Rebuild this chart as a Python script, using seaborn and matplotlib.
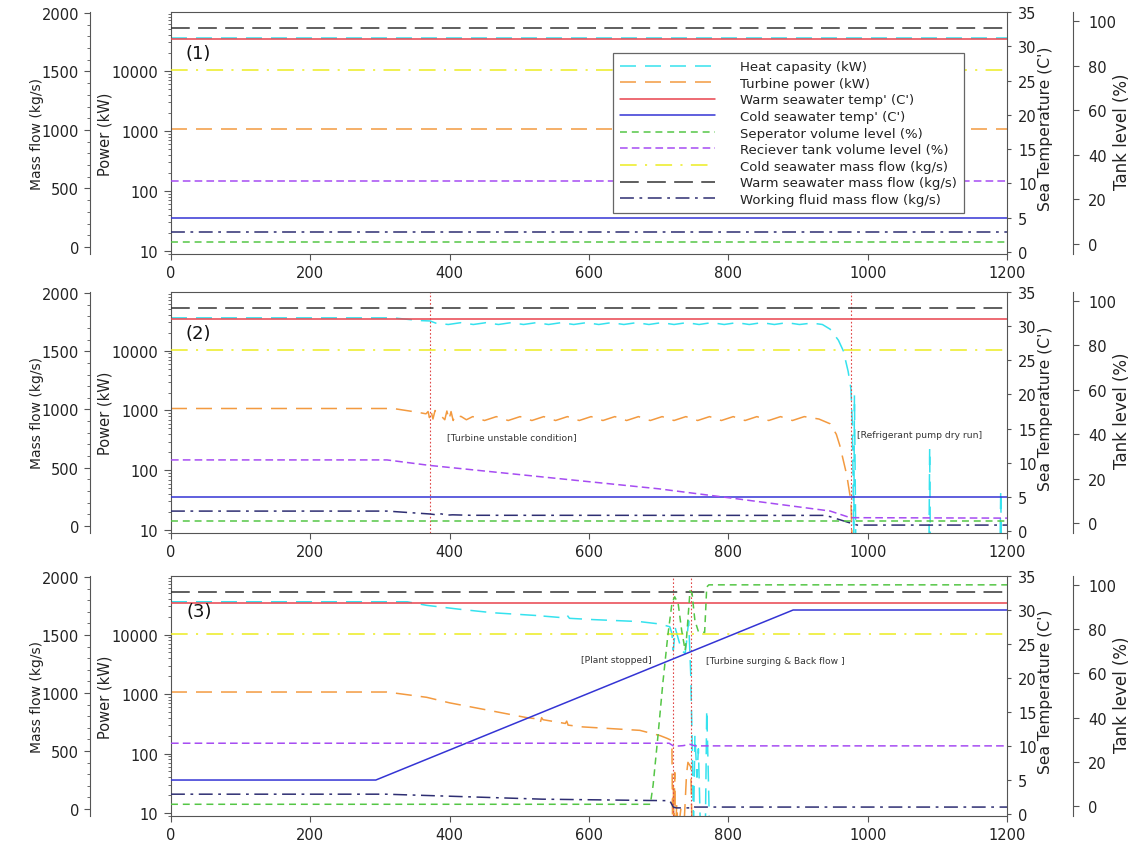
import matplotlib
matplotlib.use("Agg")
import matplotlib.pyplot as plt
from matplotlib.ticker import FixedLocator, FuncFormatter, LogLocator, MultipleLocator, NullFormatter
import numpy as np
import seaborn as sns

# ---------------------------------------------------------------- data
TIME_TICKS = [0, 200, 400, 600, 800, 1000, 1200]
POWER_TICKS = [10, 100, 1000, 10000]
MASS_TICKS = [0, 500, 1000, 1500, 2000]
TEMP_TICKS = [0, 5, 10, 15, 20, 25, 30, 35]
TANK_TICKS = [0, 20, 40, 60, 80, 100]

LABELS = {
    "heat": "Heat capasity (kW)",
    "turbine": "Turbine power (kW)",
    "warm_t": "Warm seawater temp' (C')",
    "cold_t": "Cold seawater temp' (C')",
    "sep": "Seperator volume level (%)",
    "rec": "Reciever tank volume level (%)",
    "cold_m": "Cold seawater mass flow (kg/s)",
    "warm_m": "Warm seawater mass flow (kg/s)",
    "wf": "Working fluid mass flow (kg/s)",
}

# (time s, value) pairs
HEAT_1 = [(0, 35500), (1200, 35500)]
TURBINE_1 = [(0, 1080), (1200, 1080)]
WARM_T_1 = [(0, 31), (1200, 31)]
COLD_T_1 = [(0, 5), (1200, 5)]
SEP_1 = [(0, 0.8), (1200, 0.8)]
REC_1 = [(0, 28.4), (1200, 28.4)]
COLD_M_1 = [(0, 1510), (1200, 1510)]
WARM_M_1 = [(0, 1870), (1200, 1870)]
WF_1 = [(0, 128), (1200, 128)]

HEAT_2 = [(0, 35500), (319, 35500), (340, 33500), (357, 32000), (372, 31500), (380, 29000),
          (398, 27500), (416, 29500), (434, 27500), (452, 29500), (470, 27500), (488, 29500),
          (506, 27500), (524, 29500), (542, 27500), (560, 29500), (578, 27500), (596, 29500),
          (614, 27500), (632, 29500), (650, 27500), (668, 29500), (686, 27500), (704, 29500),
          (722, 27500), (740, 29500), (758, 27500), (776, 29500), (794, 27500), (812, 29500),
          (830, 27500), (848, 29500), (866, 27500), (884, 29500), (902, 27500), (920, 29000),
          (935, 27500), (946, 23000), (958, 15000), (965, 10000), (972, 4500), (976, 2300),
          (978, 600), (979, 83), (980, 5), (981, 1800), (983, 5), (1088, 5), (1089, 233),
          (1090, 5), (1190, 5), (1191, 46), (1192, 5), (1200, 5)]
TURBINE_2 = [(0, 1080), (319, 1080), (340, 990), (355, 930), (366, 880), (369, 960), (371, 760),
             (373, 1010), (376, 720), (379, 1000), (382, 900), (386, 850), (390, 760), (393, 700),
             (396, 980), (399, 700), (402, 960), (405, 680), (408, 820), (411, 760), (416, 800),
             (424, 700), (433, 790), (450, 680), (467, 790), (484, 680), (501, 790), (518, 680),
             (535, 790), (552, 680), (569, 790), (586, 680), (603, 790), (620, 680), (637, 790),
             (654, 680), (671, 790), (688, 680), (705, 790), (722, 680), (739, 790), (756, 680),
             (773, 790), (790, 680), (807, 790), (824, 680), (841, 790), (858, 680), (875, 790),
             (892, 680), (909, 790), (930, 720), (946, 600), (955, 400), (960, 260), (970, 83),
             (976, 30), (978, 5), (1200, 5)]
REC_2 = [(0, 28.4), (310, 28.4), (372, 25.9), (700, 15.4), (805, 11.2), (946, 5.4), (975, 2.4),
         (1200, 2.2)]
WF_2 = [(0, 128), (310, 128), (372, 103), (380, 97), (388, 104), (396, 93), (404, 96), (430, 92),
        (940, 91), (975, 26), (985, 8), (1200, 8)]

HEAT_3 = [(0, 35500), (339, 35500), (367, 30900), (415, 26500), (462, 23200), (526, 20800),
          (530, 22500), (534, 20400), (566, 19000), (569, 20800), (572, 18700), (606, 17800),
          (672, 16500), (702, 15000), (716, 13500), (719, 10400), (721, 5400), (724, 12600),
          (728, 8600), (733, 5400), (738, 4800), (740, 7500), (743, 17000), (746, 2200),
          (748, 170), (750, 5), (752, 200), (755, 40), (757, 120), (760, 5), (767, 5), (769, 540),
          (771, 60), (773, 5), (1200, 5)]
TURBINE_3 = [(0, 1080), (310, 1080), (367, 880), (400, 710), (462, 516), (511, 400), (528, 380),
             (530, 330), (532, 400), (534, 370), (566, 320), (568, 350), (570, 300), (591, 280),
             (673, 245), (702, 200), (712, 180), (719, 165), (720, 5), (721, 29), (722, 5),
             (723, 48), (724, 5), (726, 14), (728, 5), (732, 12), (736, 5), (740, 45), (742, 71),
             (746, 60), (748, 5), (1200, 5)]
COLD_T_3 = [(0, 5), (294, 5), (893, 30), (1200, 30)]
SEP_3 = [(0, 0.8), (688, 0.8), (692, 9.4), (699, 31.8), (706, 55.6), (713, 76.7), (719, 91.5),
         (723, 94.6), (728, 91.5), (733, 79.4), (738, 70.4), (740, 76), (745, 97.3), (748, 96),
         (752, 83.9), (757, 78.9), (766, 78.5), (769, 99), (772, 100), (1200, 100)]
REC_3 = [(0, 28.4), (715, 28.4), (722, 27.0), (735, 27.3), (745, 27.9), (752, 27.2), (1200, 27.2)]
WF_3 = [(0, 128), (308, 128), (413, 108), (533, 85), (683, 74), (716, 72), (721, 17), (725, 10),
        (745, 10), (748, 25), (752, 17), (1200, 17)]

PANELS = [
    dict(heat=HEAT_1, turbine=TURBINE_1, warm_t=WARM_T_1, cold_t=COLD_T_1, sep=SEP_1,
         rec=REC_1, cold_m=COLD_M_1, warm_m=WARM_M_1, wf=WF_1),
    dict(heat=HEAT_2, turbine=TURBINE_2, warm_t=WARM_T_1, cold_t=COLD_T_1, sep=SEP_1,
         rec=REC_2, cold_m=COLD_M_1, warm_m=WARM_M_1, wf=WF_2),
    dict(heat=HEAT_3, turbine=TURBINE_3, warm_t=WARM_T_1, cold_t=COLD_T_3, sep=SEP_3,
         rec=REC_3, cold_m=COLD_M_1, warm_m=WARM_M_1, wf=WF_3),
]
PANEL_TAGS = ["(1)", "(2)", "(3)"]
EVENTS = [[], [372, 976], [720, 746]]
NOTES = [[], ["[Turbine unstable condition]", "[Refrigerant pump dry run]"],
         ["[Plant stopped]", "[Turbine surging & Back flow ]"]]

# ---------------------------------------------------------------- styles / layout
AXIS_OF = dict(heat="power", turbine="power", warm_t="temp", cold_t="temp", sep="tank",
               rec="tank", cold_m="mass", warm_m="mass", wf="mass")
STYLES = {
    "heat": dict(color="#35e2ee", ls=(0, (11.5, 6.5)), lw=1.1),
    "turbine": dict(color="#f39a40", ls=(0, (11.5, 6.5)), lw=1.1),
    "warm_t": dict(color="#e8434d", ls="-", lw=1.1),
    "cold_t": dict(color="#3434d4", ls="-", lw=1.1),
    "sep": dict(color="#55c646", ls=(0, (5, 3.5)), lw=1.1),
    "rec": dict(color="#a64cf2", ls=(0, (5.5, 3)), lw=1.1),
    "cold_m": dict(color="#ecec20", ls=(0, (12, 6, 1.5, 6)), lw=1.1),
    "warm_m": dict(color="#333333", ls=(0, (13.5, 6)), lw=1.1),
    "wf": dict(color="#2e2e72", ls=(0, (10, 4, 2, 4)), lw=1.1),
}
NOTE_POS = [[], [(0.33, 0.40), (0.82, 0.41)], [(0.491, 0.654), (0.64, 0.646)]]
TAG_POS = [(0.017, 0.83), (0.017, 0.83), (0.019, 0.855)]

sns.set_theme(style="ticks")
plt.rcParams["font.family"] = ["DejaVu Sans"]
plt.rcParams["lines.scale_dashes"] = False

FIG_W, FIG_H = 1134, 845
fig = plt.figure(figsize=(FIG_W / 100, FIG_H / 100), dpi=100)
LEFT, WIDTH = 171 / FIG_W, 836 / FIG_W
RECTS = [(LEFT, 1 - 255 / FIG_H, WIDTH, 242 / FIG_H),
         (LEFT, 1 - 534 / FIG_H, WIDTH, 241 / FIG_H),
         (LEFT, 1 - 817 / FIG_H, WIDTH, 240 / FIG_H)]
SPINE_C = "#555555"
TXT_C = "#222222"

legend_handles = {}

for i, rect in enumerate(RECTS):
    ax = fig.add_axes(rect)
    axm = ax.twinx()
    axt = ax.twinx()
    axk = ax.twinx()
    axes = dict(power=ax, mass=axm, temp=axt, tank=axk)
    ax.set_yscale("log")

    for key in ["heat", "turbine", "cold_m", "warm_m", "wf", "warm_t", "cold_t", "rec", "sep"]:
        pts = PANELS[i][key]
        t = [p[0] for p in pts]
        v = [p[1] for p in pts]
        st = STYLES[key]
        a = axes[AXIS_OF[key]]
        sns.lineplot(x=t, y=v, ax=a, color=st["color"], linestyle=st["ls"], linewidth=st["lw"],
                     estimator=None, sort=False, legend=False)
        if i == 0:
            legend_handles[key] = a.lines[-1]

    for ev in EVENTS[i]:
        ax.axvline(ev, color="#e04848", linestyle=(0, (1.2, 1.5)), linewidth=0.8)

    # limits
    ax.set_xlim(0, 1200)
    ax.set_ylim(8.91, 96200)
    axm.set_ylim(-60, 2008)
    axt.set_ylim(-0.29, 35)
    axk.set_ylim(-4.5, 104)

    # spines
    for a in (axm, axt, axk):
        for s in a.spines.values():
            s.set_visible(False)
    for s in ax.spines.values():
        s.set_visible(True)
        s.set_color(SPINE_C)
        s.set_linewidth(0.8)
    axm.yaxis.set_ticks_position("left")
    axm.yaxis.set_label_position("left")
    axm.spines["left"].set_visible(True)
    axm.spines["left"].set_position(("axes", -81 / 836))
    axk.spines["right"].set_visible(True)
    axk.spines["right"].set_position(("axes", (1073 - 171) / 836))
    for a, side in ((axm, "left"), (axk, "right")):
        a.spines[side].set_color(SPINE_C)
        a.spines[side].set_linewidth(0.8)

    # ticks
    ax.xaxis.set_major_locator(FixedLocator(TIME_TICKS))
    ax.yaxis.set_major_locator(FixedLocator(POWER_TICKS))
    ax.yaxis.set_major_formatter(FuncFormatter(lambda v, p: f"{v:g}"))
    ax.yaxis.set_minor_locator(LogLocator(base=10, subs=np.arange(2, 10)))
    ax.yaxis.set_minor_formatter(NullFormatter())
    axm.yaxis.set_major_locator(FixedLocator(MASS_TICKS))
    axm.yaxis.set_minor_locator(MultipleLocator(100))
    axt.yaxis.set_major_locator(FixedLocator(TEMP_TICKS))
    axk.yaxis.set_major_locator(FixedLocator(TANK_TICKS))

    common = dict(direction="out", color=SPINE_C, labelcolor=TXT_C, labelsize=10.5, width=0.8)
    ax.tick_params(axis="x", which="major", length=4, pad=4, **common)
    ax.tick_params(axis="x", which="minor", bottom=False)
    ax.tick_params(axis="y", which="major", length=5, pad=4, left=True, right=False, **common)
    ax.tick_params(axis="y", which="minor", length=2.5, left=True, right=False,
                   direction="out", color=SPINE_C, width=0.6)
    axm.tick_params(axis="y", which="major", length=4, pad=4, **common)
    axm.tick_params(axis="y", which="minor", length=2.5, direction="out", color=SPINE_C, width=0.6)
    axt.tick_params(axis="y", which="major", length=3, pad=5, **common)
    axk.tick_params(axis="y", which="major", length=4, pad=7, **common)

    # axis labels
    ax.set_ylabel("Power (kW)", fontsize=10.5, color=TXT_C)
    ax.yaxis.set_label_coords((112 - 171) / 836, 0.5)
    axm.set_ylabel("Mass flow (kg/s)", fontsize=10, color=TXT_C)
    axm.yaxis.set_label_coords((44 - 171) / 836, 0.5)
    axt.set_ylabel("Sea Temperature (C')", fontsize=11.2, color=TXT_C)
    axt.yaxis.set_label_coords((1038 - 171) / 836, 0.52)
    axk.set_ylabel("Tank level (%)", fontsize=12, color=TXT_C)
    axk.yaxis.set_label_coords((1113 - 171) / 836, 0.51)

    # texts
    axk.text(TAG_POS[i][0], TAG_POS[i][1], PANEL_TAGS[i], transform=axk.transAxes,
             fontsize=13, color="#111111", va="center", ha="left")
    for note, pos in zip(NOTES[i], NOTE_POS[i]):
        axk.text(pos[0], pos[1], note, transform=axk.transAxes, fontsize=6.6,
                 color="#333333", va="center", ha="left")

    if i == 0:
        order = ["heat", "turbine", "warm_t", "cold_t", "sep", "rec", "cold_m", "warm_m", "wf"]
        leg = axk.legend([legend_handles[k] for k in order], [LABELS[k] for k in order],
                         loc="upper left", bbox_to_anchor=((613 - 171) / 836, 1 - (54 - 13) / 242),
                         borderaxespad=0, fontsize=9.5, handlelength=7.2, handletextpad=1.9,
                         labelspacing=0.27, borderpad=0.55, frameon=True, fancybox=False,
                         framealpha=1, edgecolor="#666666")
        leg.get_frame().set_linewidth(0.9)
        for txt in leg.get_texts():
            txt.set_color(TXT_C)

fig.savefig("out.png", dpi=100, facecolor="white")
